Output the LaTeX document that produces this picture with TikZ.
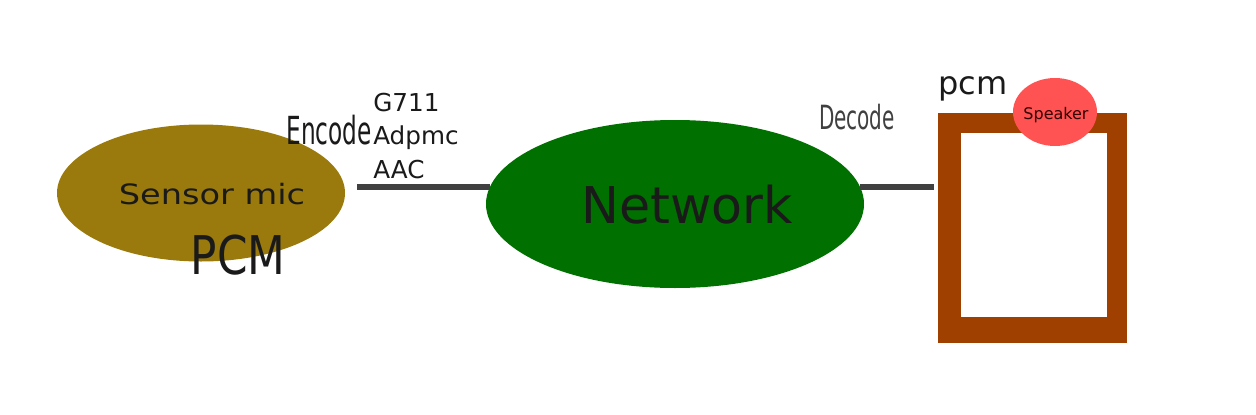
\documentclass[tikz,border=0pt]{standalone}
\usepackage{fontspec}
\setmainfont{DejaVu Sans}
\usetikzlibrary{shapes.geometric}
\definecolor{olivec}{HTML}{9A7A0C}
\definecolor{netgreen}{HTML}{007000}
\definecolor{boxbrown}{HTML}{A04000}
\definecolor{spkred}{HTML}{FF5252}
\definecolor{linegray}{HTML}{404040}
\definecolor{txt}{HTML}{1A1A1A}
\tikzset{
  blob/.style={ellipse, draw=none, inner sep=0pt},
  lbl/.style={inner sep=0pt, text=txt, anchor=center},
  link/.style={draw=linegray, line width=4.5pt},
}
\begin{document}
\begin{tikzpicture}[x=0.75pt,y=-0.75pt]
\useasboundingbox (0,0) rectangle (1256,414);
\fill[white] (0,0) rectangle (1256,414);
% sensor
\node[blob, fill=olivec, minimum width=288*0.75pt, minimum height=137*0.75pt] (sensor) at (201,193) {};
\node[lbl, font=\fontsize{21}{24}\selectfont, xscale=1.2] (sensortxt) at (212,194) {Sensor mic};
\node[lbl, font=\fontsize{40}{48}\selectfont, xscale=0.82] (pcmbig) at (238,255) {PCM};
% network
\node[blob, fill=netgreen, minimum width=378*0.75pt, minimum height=168*0.75pt] (net) at (675,204) {};
\node[lbl, font=\fontsize{38}{46}\selectfont] (nettxt) at (687,205) {Network};
% box
\fill[boxbrown] (938,113) rectangle (1127,343);
\fill[white] (961,133) rectangle (1107,317);
\coordinate (boxw) at (934,187);
% speaker
\node[blob, fill=spkred, minimum width=84*0.75pt, minimum height=68*0.75pt] (spk) at (1055,112) {};
\node[lbl, font=\fontsize{12}{14}\selectfont, text={black!80!red}] (spktxt) at (1056,115) {Speaker};
\node[lbl, font=\fontsize{24}{28}\selectfont] (pcmsmall) at (973,89) {pcm};
% links
\coordinate (l1a) at (357,187);
\coordinate (l1b) at (490,187);
\coordinate (l2a) at (860,187);
\draw[link] (l1a) -- (l1b);
\draw[link] (l2a) -- (boxw);
% labels
\node[lbl, font=\fontsize{29}{32}\selectfont, xscale=0.6] (enc) at (329,130) {Encode};
\node[lbl, font=\fontsize{25}{30}\selectfont, xscale=0.6, text=black!75] (dec) at (857,117) {Decode};
\node[lbl, font=\fontsize{18.5}{25}\selectfont, align=left, anchor=north west] (codecs) at (373,93) {G711\\Adpmc\\AAC};
\end{tikzpicture}
\end{document}
